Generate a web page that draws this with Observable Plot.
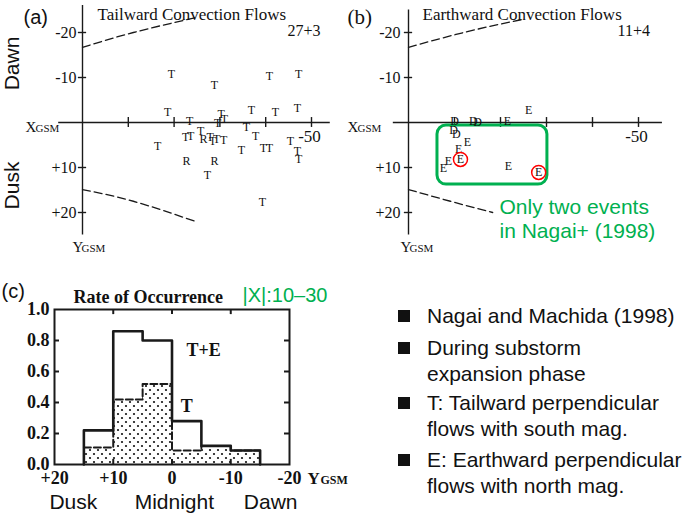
<!DOCTYPE html>
<html><head><meta charset="utf-8">
<script src="https://cdn.jsdelivr.net/npm/d3@7"></script>
<script src="https://cdn.jsdelivr.net/npm/@observablehq/plot@0.6"></script>
<style>
html,body{margin:0;padding:0;background:#fff;}
#root{position:relative;width:685px;height:514px;overflow:hidden;background:#fff;color:#111;}
#root svg{position:absolute;}
.leg{position:absolute;font-family:"Liberation Sans",Arial,sans-serif;font-size:21px;line-height:26px;color:#111;white-space:nowrap;}
.sq{position:absolute;width:12px;height:12px;background:#111;}
</style></head><body><div id="root"></div>
<script>
// ---------- DATA ----------
// Panel (a): tailward convection flows [X_GSM, Y_GSM]
const tailwardT = [[-19.4,-10.7],[-40.8,-10.4],[-47.2,-10.7],[-28.8,-8.2],[-18.6,-2.2],[-23.4,-0.4],[-30.3,-1.8],[-31.0,-0.7],[-29.5,0.2],[-36.9,-2.7],[-42.1,-2.2],[-46.9,-3.1],[-35.8,1.1],[-37.8,3.1],[-45.4,4.2],[-46.9,6.4],[-47.2,8.2],[-34.7,6.2],[-39.5,5.6],[-40.8,5.6],[-16.4,5.3],[-22.5,3.2],[-23.6,3.1],[-25.8,2.0],[-27.9,3.3],[-29.3,3.6],[-30.8,4.0],[-28.4,4.2],[-27.3,11.8],[-39.3,17.6]];
const tailwardR = [[-26.4,3.8],[-22.7,8.7],[-28.8,8.7]];
// Panel (b): earthward convection flows
const earthwardE = [[-26.1,-2.7],[-21.5,-0.2],[-12.8,4.4],[-10.9,6.0],[-11.3,8.2],[-8.7,8.7],[-7.6,10.2],[-21.7,9.6],[-28.3,11.1]];
const earthwardD = [[-10.0,-0.2],[-14.1,-0.2],[-15.0,0.0],[-9.8,1.6],[-10.4,2.7]];
const nagaiEvents = [[-11.3,8.2],[-28.3,11.1]];
const nagaiBox = [{x1:-6.3, x2:-30.2, y1:0.67, y2:13.8}];
// magnetopause boundaries (dashed)
const boundA_upper = [[0,-16.7],[-11.1,-20.0],[-24.7,-23.3]];
const boundA_lower = [[0,14.9],[-11.1,17.5],[-24.7,22.0]];
const boundB_upper = [[0,-16.7],[-12.8,-20.2],[-24.8,-22.9]];
const boundB_lower = [[0,14.9],[-9.1,17.5],[-18.3,20.0]];
const yTickValues = [-20,-10,10,20];
const yTickLabels = ["-20","-10","+10","+20"];
const xTickValues = [-10,-20,-30,-40,-50];
// Panel (c): rate of occurrence histogram
const binEdges = [15,10,5,0,-5,-10,-15];
const rateTE = [0.22,0.86,0.80,0.28,0.12,0.09];
const rateT  = [0.11,0.42,0.52,0.09,0.12,0.09];
const rateTicks = [0,0.2,0.4,0.6,0.8,1.0];
const ygsmTicks = [20,10,0,-10,-20];
const ygsmTickLabels = ["+20","+10","0","-10","-20"];
const regionLabels = [["Dusk",16.8],["Midnight",-0.4],["Dawn",-16.8]];
const legendItems = [["Nagai and Machida (1998)"],["During substorm","expansion phase"],["T: Tailward perpendicular","flows with south mag."],["E: Earthward perpendicular","flows with north mag."]];

// ---------- STYLE ----------
const ink = "#1a1a1a";
const green = "#00B050";
const serif = "'Liberation Serif','Times New Roman',serif";
const sans = "'Liberation Sans',Arial,sans-serif";
const X = d => d[0], Y = d => d[1];
const root = document.getElementById("root");

function place(svg, left, top) {
  svg.style.left = left + "px"; svg.style.top = top + "px";
  root.appendChild(svg);
}

function axesMarks(hExt, vExt, xLblDx, yLblDx, tickLblDx) {
  return [
    Plot.ruleY([0], {x1: hExt[0], x2: hExt[1], stroke: ink, strokeWidth: 1.4}),
    Plot.ruleX([0], {y1: vExt[0], y2: vExt[1], stroke: ink, strokeWidth: 1.4}),
    Plot.ruleX(xTickValues, {x: d => d, y1: -1.1, y2: 1.1, stroke: ink, strokeWidth: 1.4}),
    Plot.ruleY(yTickValues, {y: d => d, x1: 0.9, x2: -0.9, stroke: ink, strokeWidth: 1.4}),
    Plot.text(yTickValues, {x: 0, y: d => d, text: (d, i) => yTickLabels[i], textAnchor: "end", dx: tickLblDx, fontFamily: serif, fontSize: 16}),
    Plot.text(["-50"], {x: -50, y: 0, text: d => d, dy: 14, dx: -2, fontFamily: serif, fontSize: 17}),
    Plot.text(["X"], {x: 0, y: 0, text: d => d, textAnchor: "start", lineAnchor: "bottom", dx: xLblDx, dy: 9, fontFamily: serif, fontSize: 15}),
    Plot.text(["GSM"], {x: 0, y: 0, text: d => d, textAnchor: "start", lineAnchor: "bottom", dx: xLblDx + 10, dy: 9, fontFamily: serif, fontSize: 11}),
    Plot.text(["Y"], {x: 0, y: 0, text: d => d, textAnchor: "start", lineAnchor: "bottom", dx: yLblDx, dy: 129, fontFamily: serif, fontSize: 15}),
    Plot.text(["GSM"], {x: 0, y: 0, text: d => d, textAnchor: "start", lineAnchor: "bottom", dx: yLblDx + 9, dy: 129, fontFamily: serif, fontSize: 11})
  ];
}
const dashed = {x: X, y: Y, curve: "natural", stroke: ink, strokeWidth: 1.3, strokeDasharray: "8,4"};
const corner = {frameAnchor: "top-left", text: d => d, textAnchor: "start", lineAnchor: "bottom"};

// ---------- PANEL (a) ----------
const pa = Plot.plot({
  width: 340, height: 260, marginLeft: 82, marginRight: 29, marginTop: 32, marginBottom: 48,
  x: {domain: [0, -50], axis: null},
  y: {domain: [-20, 20], reverse: true, axis: null},
  style: {background: "transparent", overflow: "visible"},
  marks: [
    ...axesMarks([5.2, -54.1], [-26, 25], -57, -10, -6),
    Plot.line(boundA_upper, dashed),
    Plot.line(boundA_lower, dashed),
    Plot.text(tailwardT, {x: X, y: Y, text: () => "T", fontFamily: serif, fontSize: 12}),
    Plot.text(tailwardR, {x: X, y: Y, text: () => "R", fontFamily: serif, fontSize: 12}),
    Plot.text(["(a)"], {...corner, dx: -59, dy: -9, fontFamily: sans, fontSize: 20}),
    Plot.text(["Tailward Convection Flows"], {...corner, dx: 15, dy: -13, fontFamily: serif, fontSize: 17}),
    Plot.text(["27+3"], {...corner, dx: 205, dy: 3, fontFamily: serif, fontSize: 16}),
    Plot.text(["Dawn"], {frameAnchor: "top-left", text: d => d, textAnchor: "middle", lineAnchor: "middle", rotate: -90, dx: -70, dy: 31, fontFamily: sans, fontSize: 21}),
    Plot.text(["Dusk"], {frameAnchor: "top-left", text: d => d, textAnchor: "middle", lineAnchor: "middle", rotate: -90, dx: -70, dy: 153, fontFamily: sans, fontSize: 21})
  ]
});
place(pa, 0, 0);

// ---------- PANEL (b) ----------
const pb = Plot.plot({
  width: 345, height: 260, marginLeft: 68, marginRight: 47, marginTop: 32, marginBottom: 48,
  x: {domain: [0, -50], axis: null},
  y: {domain: [-20, 20], reverse: true, axis: null},
  style: {background: "transparent", overflow: "visible"},
  marks: [
    ...axesMarks([3.3, -55.2], [-25, 25], -61, -8, -8),
    Plot.line(boundB_upper, dashed),
    Plot.line(boundB_lower, dashed),
    Plot.rect(nagaiBox, {x1: "x1", x2: "x2", y1: "y1", y2: "y2", rx: 9, fill: "none", stroke: green, strokeWidth: 3}),
    Plot.text(earthwardD, {x: X, y: Y, text: () => "D", fontFamily: serif, fontSize: 12}),
    Plot.text(earthwardE, {x: X, y: Y, text: () => "E", fontFamily: serif, fontSize: 12}),
    Plot.dot(nagaiEvents, {x: X, y: Y, r: 7, fill: "none", stroke: "#ff0000", strokeWidth: 1.5}),
    Plot.text(["(b)"], {...corner, dx: -61, dy: -9, fontFamily: serif, fontSize: 21}),
    Plot.text(["Earthward Convection Flows"], {...corner, dx: 14, dy: -13, fontFamily: serif, fontSize: 17}),
    Plot.text(["11+4"], {...corner, dx: 209, dy: 3, fontFamily: serif, fontSize: 16}),
    Plot.text(["Only two events"], {...corner, dx: 91, dy: 181, fill: green, fontFamily: sans, fontSize: 21}),
    Plot.text(["in Nagai+ (1998)"], {...corner, dx: 91, dy: 205, fill: green, fontFamily: sans, fontSize: 21})
  ]
});
place(pb, 340, 0);

// ---------- PANEL (c) ----------
const stepPts = vals => binEdges.map((e, i) => ({x: e, y: i < vals.length ? vals[i] : vals[vals.length - 1]}));
const tPts = stepPts(rateT);
const tePts = [{x: binEdges[0], y: 0}, ...stepPts(rateTE), {x: binEdges[binEdges.length - 1], y: 0}];
const pc = Plot.plot({
  width: 360, height: 234, marginLeft: 54, marginRight: 71, marginTop: 29, marginBottom: 50,
  x: {domain: [20, -20], axis: null},
  y: {domain: [0, 1], axis: null},
  style: {background: "transparent", overflow: "visible"},
  marks: [
    Plot.areaY(tPts, {x: "x", y: "y", curve: "step-after", fill: "url(#dots)"}),
    Plot.lineY(tPts, {x: "x", y: "y", curve: "step-after", stroke: ink, strokeWidth: 2, strokeDasharray: "7,3"}),
    Plot.lineY(tePts, {x: "x", y: "y", curve: "step-after", stroke: ink, strokeWidth: 2.6}),
    Plot.frame({stroke: ink, strokeWidth: 2}),
    Plot.ruleY(rateTicks.slice(1, -1), {y: d => d, x1: 20, x2: 19.15, stroke: ink, strokeWidth: 2}),
    Plot.ruleY(rateTicks.slice(1, -1), {y: d => d, x1: -20, x2: -19.15, stroke: ink, strokeWidth: 2}),
    Plot.ruleX(ygsmTicks.slice(1, -1), {x: d => d, y1: 0, y2: 0.033, stroke: ink, strokeWidth: 2}),
    Plot.ruleX(ygsmTicks.slice(1, -1), {x: d => d, y1: 1, y2: 0.967, stroke: ink, strokeWidth: 2}),
    Plot.text(rateTicks, {x: 20, y: d => d, text: d => d.toFixed(1), textAnchor: "end", dx: -5, fontFamily: serif, fontWeight: "bold", fontSize: 18}),
    Plot.text(ygsmTicks, {x: d => d, y: 0, text: (d, i) => ygsmTickLabels[i], dy: 14, fontFamily: serif, fontWeight: "bold", fontSize: 18}),
    Plot.text(["Y"], {frameAnchor: "bottom-right", text: d => d, textAnchor: "start", lineAnchor: "bottom", dx: 18, dy: 19, fontFamily: serif, fontWeight: "bold", fontSize: 17}),
    Plot.text(["GSM"], {frameAnchor: "bottom-right", text: d => d, textAnchor: "start", lineAnchor: "bottom", dx: 31, dy: 19, fontFamily: serif, fontWeight: "bold", fontSize: 12}),
    Plot.text(["T+E"], {x: -5.4, y: 0.735, text: d => d, fontFamily: serif, fontWeight: "bold", fontSize: 18}),
    Plot.text(["T"], {x: -2.5, y: 0.374, text: d => d, fontFamily: serif, fontWeight: "bold", fontSize: 18}),
    Plot.text(regionLabels, {x: d => d[1], frameAnchor: "bottom", text: d => d[0], textAnchor: "middle", lineAnchor: "bottom", dy: 44, fontFamily: sans, fontSize: 21}),
    Plot.text(["(c)"], {...corner, dx: -53, dy: -12, fontFamily: sans, fontSize: 20}),
    Plot.text(["Rate of Occurrence"], {...corner, dx: 19, dy: -7, fontFamily: serif, fontWeight: "bold", fontSize: 18}),
    Plot.text(["|X|:10\u201330"], {...corner, dx: 188, dy: -8, fill: green, fontFamily: sans, fontSize: 20})
  ]
});
// dotted fill pattern
const defs = d3.select(pc).insert("defs", ":first-child");
const pat = defs.append("pattern").attr("id", "dots").attr("width", 8).attr("height", 8).attr("patternUnits", "userSpaceOnUse");
pat.append("rect").attr("width", 8).attr("height", 8).attr("fill", "white");
pat.append("circle").attr("cx", 2).attr("cy", 2).attr("r", 1.1).attr("fill", "#111");
pat.append("circle").attr("cx", 6).attr("cy", 6).attr("r", 1.1).attr("fill", "#111");
place(pc, 0, 280);

// ---------- LEGEND ----------
const legendBaselines = [323, 355, 410, 467];
legendItems.forEach((lines, i) => {
  const b = legendBaselines[i];
  const sq = document.createElement("div");
  sq.className = "sq"; sq.style.left = "398px"; sq.style.top = (b - 13) + "px";
  root.appendChild(sq);
  const t = document.createElement("div");
  t.className = "leg"; t.style.left = "427px"; t.style.top = (b - 20.3) + "px";
  t.innerHTML = lines.join("<br>");
  root.appendChild(t);
});
</script></body></html>
